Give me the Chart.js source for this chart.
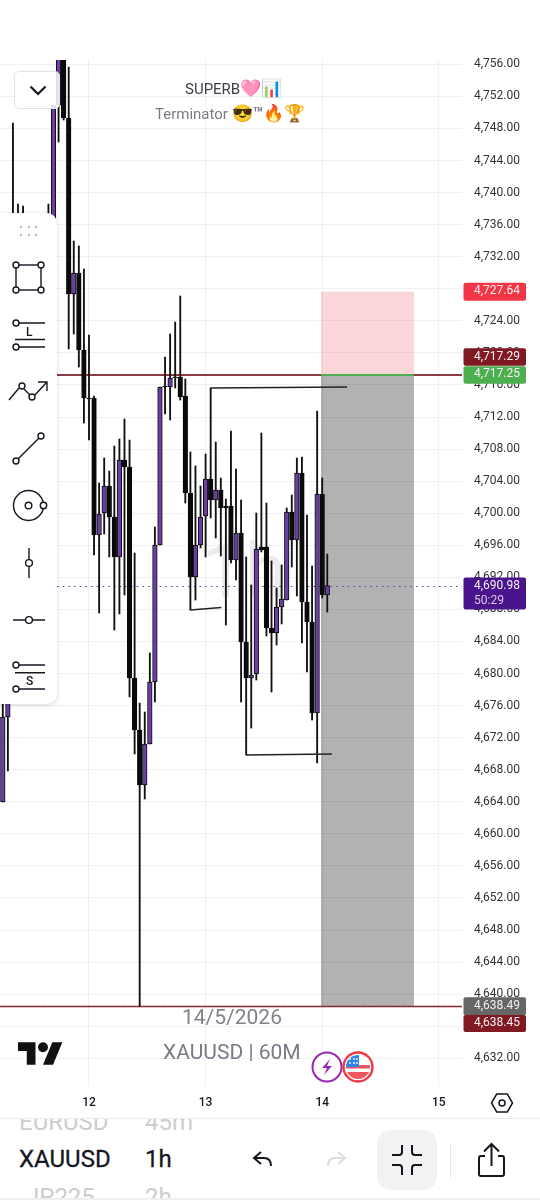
<!DOCTYPE html>
<html>
<head>
<meta charset="utf-8">
<title>XAUUSD 60M</title>
<script src="https://cdn.jsdelivr.net/npm/chart.js@4"></script>
<style>
  html, body { margin: 0; padding: 0; background: #fff; width: 540px; height: 1200px; overflow: hidden; font-family: Roboto, sans-serif; }
  #chart { position: absolute; left: 0; top: 0; z-index: 1; }
  .txt { position: absolute; white-space: nowrap; }
  .under { z-index: 0; }
  .over { z-index: 2; }
  .emo { font-size: 17px; }
  svg { position: absolute; overflow: visible; }
  #toolbar { position: absolute; z-index: 3; left: 0; top: 213px; width: 57px; height: 491px; background: #fff; border-radius: 0 10px 10px 0; box-shadow: 0 1px 5px rgba(0,0,0,.16); }
  #dropdown { position: absolute; z-index: 3; left: 14px; top: 71px; width: 46px; height: 38px; box-sizing: border-box; background: rgba(255,255,255,.86); border: 1px solid #e0e3eb; border-radius: 5px; }
  #bottom { position: absolute; z-index: 4; left: 0; top: 1118px; width: 540px; height: 80px; background: #fff; border-top: 1px solid #ececec; box-sizing: border-box; overflow: hidden; }
  #bottomEdge { position: absolute; z-index: 4; left: 0; top: 1198px; width: 540px; height: 2px; background: #efefef; }
  #flatBtn { position: absolute; left: 377px; top: 11px; width: 60px; height: 60px; background: #f2f2f2; border-radius: 14px; }
  #divider { position: absolute; left: 450px; top: 24px; width: 1px; height: 35px; background: #e8e8e8; }
</style>
</head>
<body>
<div class="txt under" style="left:202px;top:526px;font-size:76px;color:#ececef;">1h</div>
<canvas id="chart" width="540" height="1200"></canvas>

<div class="txt over" style="left:185px;top:78px;font-size:15px;color:#3c404c;">SUPERB<span class="emo">🩷📊</span></div>
<div class="txt over" style="left:155px;top:103px;font-size:15px;color:#787b86;">Terminator <span class="emo">😎<b>™</b>🔥🏆</span></div>
<div class="txt over" style="left:182px;top:1005px;font-size:21px;color:#80838d;">14/5/2026</div>
<div class="txt over" style="left:163px;top:1040px;font-size:21px;color:#787b86;">XAUUSD | 60M</div>

<svg class="over" style="left:18px;top:1042px;z-index:2" width="45" height="23" viewBox="0 4 36 18" fill="#111">
  <path d="M14 22H7V11H0V4h14v18zM28 22h-8l7.5-18h8L28 22z"/><circle cx="20" cy="8" r="4"/>
</svg>
<svg style="left:311px;top:1051px;z-index:2" width="32" height="32" viewBox="0 0 32 32">
  <circle cx="16" cy="16" r="14.5" fill="#fff" stroke="#9c27b0" stroke-width="2"/>
  <path d="M19 8l-8 9h5l-3 7 8-9h-5z" fill="#9c27b0"/>
</svg>
<svg style="left:342px;top:1051px;z-index:2" width="32" height="32" viewBox="0 0 32 32">
  <defs><clipPath id="flagClip"><circle cx="16" cy="16" r="12"/></clipPath></defs>
  <circle cx="16" cy="16" r="14.5" fill="#fff" stroke="#f23645" stroke-width="2.4"/>
  <g clip-path="url(#flagClip)">
    <rect x="4" y="4" width="24" height="24" fill="#fff"/>
    <rect x="4" y="14" width="24" height="3.5" fill="#f4565f"/>
    <rect x="4" y="21" width="24" height="7" fill="#f4565f"/>
    <rect x="4" y="4" width="13" height="12" fill="#2f86e8"/>
    <g fill="#fff"><circle cx="8" cy="8" r=".9"/><circle cx="12" cy="8" r=".9"/><circle cx="15" cy="8" r=".9"/><circle cx="8" cy="12" r=".9"/><circle cx="12" cy="12" r=".9"/><circle cx="15" cy="12" r=".9"/></g>
  </g>
</svg>
<svg style="left:490px;top:1092px;z-index:2" width="24" height="22" viewBox="0 0 24 22" fill="none" stroke="#131722" stroke-width="1.5">
  <path d="M1.5 11L6.7 2h10.6l5.2 9-5.2 9H6.7z"/><circle cx="12" cy="11" r="3"/>
</svg>

<div id="dropdown">
  <svg style="left:14px;top:13px" width="18" height="11" viewBox="0 0 18 11" fill="none" stroke="#131722" stroke-width="2.2"><path d="M1.5 1.5L9 9l7.5-7.5"/></svg>
</div>

<div id="toolbar">
  <svg style="left:0;top:-213px" width="57" height="704" viewBox="0 0 57 704" fill="none" stroke="#131722" stroke-width="1.4">
    <g fill="#bbb" stroke="none">
      <circle cx="21" cy="227" r="1.2"/><circle cx="29" cy="227" r="1.2"/><circle cx="36" cy="227" r="1.2"/>
      <circle cx="21" cy="235" r="1.2"/><circle cx="29" cy="235" r="1.2"/><circle cx="36" cy="235" r="1.2"/>
    </g>
    <rect x="16" y="265" width="25" height="25"/>
    <g fill="#fff"><circle cx="16" cy="265" r="3"/><circle cx="41" cy="265" r="3"/><circle cx="16" cy="290" r="3"/><circle cx="41" cy="290" r="3"/></g>
    <path d="M19 323h26M15 339.5h30M19 347h26"/><circle cx="16" cy="323" r="3"/><circle cx="16" cy="347" r="3"/>
    <path d="M9 400l10-12M24 389l6 6M35 395l11-12M38 382h9v9"/><circle cx="22" cy="386" r="3"/><circle cx="32" cy="397" r="3"/>
    <path d="M18 459l21-21"/><circle cx="16" cy="461" r="3"/><circle cx="41" cy="436" r="3"/>
    <circle cx="28.5" cy="505.5" r="15"/><circle cx="28.5" cy="505.5" r="3.3"/><circle cx="43.5" cy="505.5" r="3.2" fill="#fff"/>
    <path d="M29 548v11.5M29 566.5V578"/><circle cx="29" cy="563" r="3.4"/>
    <path d="M13 620h12.5M32.500 620H45"/><circle cx="29" cy="620" r="3.4"/>
    <path d="M19 665h26M15 672.700h30M19 689h26"/><circle cx="16" cy="665" r="3"/><circle cx="16" cy="689" r="3"/>
  </svg>
  <div class="txt" style="left:26px;top:112px;font-size:12px;font-weight:500;color:#131722;">L</div>
  <div class="txt" style="left:26px;top:461px;font-size:12px;font-weight:500;color:#131722;">S</div>
</div>

<div id="bottom">
  <div class="txt" style="left:19px;top:-11px;font-size:24px;color:#cdcdcd;">EURUSD</div>
  <div class="txt" style="left:145px;top:-11px;font-size:24px;color:#cdcdcd;">45m</div>
  <div class="txt" style="left:19px;top:26px;font-size:24px;color:#131722;-webkit-text-stroke:.3px #131722;">XAUUSD</div>
  <div class="txt" style="left:145px;top:26px;font-size:24px;color:#131722;-webkit-text-stroke:.3px #131722;">1h</div>
  <div class="txt" style="left:26px;top:64px;font-size:24px;color:#cdcdcd;">JP225</div>
  <div class="txt" style="left:145px;top:64px;font-size:24px;color:#cdcdcd;">2h</div>
  <svg style="left:252px;top:30px" width="22" height="22" viewBox="0 0 22 22" fill="none" stroke="#131722" stroke-width="2"><path d="M9 3L2 9l7 6"/><path d="M2 9h10c5 0 7 3 7 8"/></svg>
  <svg style="left:325px;top:30px" width="22" height="22" viewBox="0 0 22 22" fill="none" stroke="#dcdcdc" stroke-width="2"><path d="M13 3l7 6-7 6"/><path d="M20 9H10c-5 0-7 3-7 8"/></svg>
  <div id="flatBtn"></div>
  <svg style="left:391px;top:24px" width="32" height="34" viewBox="0 0 32 34" fill="none" stroke="#131722" stroke-width="2"><path d="M11 2v7q0 3-3 3H1M21 2v7q0 3 3 3h7M11 32v-7q0-3-3-3H1M21 32v-7q0-3 3-3h7"/></svg>
  <div id="divider"></div>
  <svg style="left:477px;top:23px" width="29" height="36" viewBox="0 0 29 36" fill="none" stroke="#131722" stroke-width="2"><path d="M14.500 24V3M7 9.500L14.500 2 22 9.500"/><path d="M8 14H4q-2 0-2 2v16q0 2 2 2h21q2 0 2-2V16q0-2-2-2h-4"/></svg>
</div>
<div id="bottomEdge"></div>

<script>
// bar numbers, 0 is the bar on the "12" gridline
const barIndex = [-17,-16,-15,-14,-13,-12,-11,-10,-9,-8,-7,-6,-5,-4,-3,-2,-1,0,1,2,3,4,5,6,7,8,9,10,11,12,13,14,15,16,17,18,19,20,21,22,23,24,25,26,27,28,29,30,31,32,33,34,35,36,37,38,39,40,41,42,43,44,45,46,47];

const opens = [4663.97,4674.58,4687.00,4712.00,4705.00,4697.00,4704.00,4716.00,4708.00,4722.00,4732.00,4750.92,4760.00,4749.30,4727.35,4729.97,4720.36,4714.37,4714.37,4697.28,4700.03,4703.39,4699.53,4694.54,4706.64,4705.76,4679.44,4672.95,4666.09,4671.21,4678.94,4696.03,4715.87,4715.74,4716.99,4716.99,4714.62,4702.52,4692.04,4696.03,4699.65,4704.27,4701.65,4702.89,4700.90,4700.90,4694.16,4697.53,4683.93,4679.44,4679.94,4695.78,4695.78,4685.68,4685.06,4688.30,4689.17,4700.15,4696.66,4705.02,4688.92,4686.43,4675.08,4702.40,4689.80];
const highs = [4676.45,4690.00,4748.68,4738.57,4738.32,4712.00,4722.00,4725.00,4730.00,4738.57,4750.92,4762.00,4762.00,4755.66,4733.96,4733.33,4730.46,4722.23,4714.62,4703.77,4706.89,4705.26,4708.38,4709.26,4711.75,4709.13,4695.04,4676.32,4675.20,4682.56,4698.28,4715.74,4719.49,4722.36,4723.85,4727.10,4716.74,4707.64,4705.89,4703.39,4707.39,4715.62,4708.88,4704.39,4701.77,4710.25,4705.51,4701.65,4694.54,4691.04,4700.03,4710.01,4701.27,4694.04,4690.67,4693.54,4700.65,4702.27,4706.89,4707.01,4699.78,4693.41,4712.75,4704.39,4694.91];
const lows = [4663.97,4667.84,4684.00,4700.00,4692.00,4694.00,4700.00,4705.00,4704.00,4718.00,4730.00,4746.31,4749.05,4720.48,4722.36,4718.24,4711.25,4709.13,4694.79,4687.55,4697.41,4694.54,4685.43,4687.43,4689.80,4677.07,4669.96,4638.49,4664.35,4671.21,4676.45,4696.03,4712.38,4711.63,4715.62,4714.12,4701.27,4687.92,4689.17,4695.66,4694.54,4699.40,4696.91,4694.66,4686.05,4693.79,4691.67,4676.45,4669.84,4673.20,4679.19,4695.16,4684.68,4677.69,4683.56,4686.18,4689.17,4693.29,4689.67,4683.81,4680.19,4674.20,4668.84,4689.42,4687.67];
const closes = [4674.58,4687.00,4712.00,4705.00,4697.00,4704.00,4716.00,4708.00,4722.00,4732.00,4750.92,4760.00,4749.30,4727.35,4729.97,4720.36,4714.37,4714.25,4697.28,4699.90,4703.39,4699.53,4694.54,4706.64,4705.76,4679.44,4672.95,4666.09,4671.21,4678.94,4696.03,4715.74,4715.74,4716.87,4716.87,4714.50,4702.52,4692.04,4696.03,4699.53,4704.27,4701.65,4702.89,4700.65,4700.65,4694.16,4697.53,4683.93,4679.44,4679.82,4695.53,4695.41,4685.68,4685.06,4688.30,4689.30,4700.15,4696.66,4705.02,4688.92,4686.43,4675.08,4702.40,4689.80,4690.98];

const dayTicks = [0, 23, 46, 69];
const dayLabels = ['12', '13', '14', '15'];

const priceMin = 4628.54;
const priceMax = 4756.54;
const priceTicks = [4756,4752,4748,4744,4740,4736,4732,4728,4724,4720,4716,4712,4708,4704,4700,4696,4692,4688,4684,4680,4676,4672,4668,4664,4660,4656,4652,4648,4644,4640,4636,4632];

// drawn trend lines, [bar, price] ends
const trendTopX = [24, 50.9];
const trendTopY = [4715.62, 4715.75];
const trendLeftX = [20, 26.1];
const trendLeftY = [4687.92, 4688.25];
const trendLowX = [31, 47.9];
const trendLowY = [4669.84, 4669.95];

// long position tool
const positionX = [45.76, 64.1];
const stopPrice = 4727.64;
const entryPrice = 4717.25;
const targetPrice = 4638.49;
const lowerLinePrice = 4638.45;
const lastPrice = 4690.98;

const tagTexts = ['4,727.64', '4,717.29', '4,717.25', '4,690.98', '4,638.49', '4,638.45'];
const tagPrices = [4727.64, 4717.29, 4717.25, 4690.98, 4638.49, 4638.45];
const tagColors = ['#f23645', '#801922', '#4caf50', '#4a148c', '#666666', '#801922'];
const countdown = '50:29';

const PURPLE = '#6c3fa5';
const BLACK = '#0a0a0a';

const toPoints = (xs, ys) => xs.map((x, i) => ({ x: x, y: ys[i] }));

const wicks = barIndex.map((x, i) => ({ x: x, y: [lows[i], highs[i]] }));
const bodies = barIndex.map((x, i) => ({ x: x, y: [opens[i], closes[i]] }));
const bodyColors = barIndex.map((x, i) => closes[i] >= opens[i] ? PURPLE : BLACK);

const trendDataset = (xs, ys) => ({
  type: 'line',
  data: toPoints(xs, ys),
  borderColor: '#222',
  borderWidth: 1.5,
  pointRadius: 0,
  order: 0,
});

// position box and price lines go under the candles
const underlay = {
  id: 'underlay',
  beforeDatasetsDraw(chart) {
    const { ctx, chartArea, scales: { x, y } } = chart;
    const left = x.getPixelForValue(positionX[0]);
    const right = x.getPixelForValue(positionX[1]);
    const stopY = y.getPixelForValue(stopPrice);
    const entryY = y.getPixelForValue(entryPrice);
    const targetY = y.getPixelForValue(targetPrice);

    ctx.save();
    ctx.fillStyle = 'rgba(242,54,69,0.2)';
    ctx.fillRect(left, stopY, right - left, entryY - stopY);
    ctx.fillStyle = 'rgba(0,0,0,0.3)';
    ctx.fillRect(left, entryY, right - left, targetY - entryY);

    ctx.lineWidth = 2;
    ctx.strokeStyle = '#8b3a46';
    ctx.beginPath();
    ctx.moveTo(chartArea.left, entryY);
    ctx.lineTo(chartArea.right, entryY);
    ctx.stroke();

    ctx.strokeStyle = '#4caf50';
    ctx.beginPath();
    ctx.moveTo(left, entryY);
    ctx.lineTo(right, entryY);
    ctx.stroke();

    const lowY = y.getPixelForValue(lowerLinePrice);
    ctx.lineWidth = 1.5;
    ctx.strokeStyle = '#8b1a22';
    ctx.beginPath();
    ctx.moveTo(chartArea.left, lowY);
    ctx.lineTo(chartArea.right, lowY);
    ctx.stroke();
    ctx.lineWidth = 1;
    ctx.setLineDash([3, 2]);
    ctx.strokeStyle = 'rgba(120,120,120,0.35)';
    ctx.beginPath();
    ctx.moveTo(chartArea.left, lowY);
    ctx.lineTo(chartArea.right, lowY);
    ctx.stroke();

    const lastY = Math.round(y.getPixelForValue(lastPrice)) + 0.5;
    ctx.setLineDash([1.5, 4.2]);
    ctx.strokeStyle = '#5e35b1';
    ctx.beginPath();
    ctx.moveTo(chartArea.left, lastY);
    ctx.lineTo(chartArea.right, lastY);
    ctx.stroke();
    ctx.restore();
  },
};

// price tags on the right axis, some are pushed so they stack
const tagShift = [0, -17.5, 0, 8, 0, 17];
const tagHeight = [18, 17.5, 17.5, 32, 18, 17];

const priceTags = {
  id: 'priceTags',
  afterDraw(chart) {
    const { ctx, scales: { y } } = chart;
    ctx.save();
    ctx.textBaseline = 'middle';
    ctx.font = '12px Roboto';
    tagTexts.forEach((text, i) => {
      const mid = y.getPixelForValue(tagPrices[i]) + tagShift[i];
      const h = tagHeight[i];
      ctx.fillStyle = tagColors[i];
      ctx.beginPath();
      ctx.roundRect(463.5, mid - h / 2, 62.5, h, 2);
      ctx.fill();
      ctx.fillStyle = '#f4f0f4';
      if (i === 3) {
        ctx.fillText(text, 474, mid - 7.5);
        ctx.fillStyle = '#d8cce6';
        ctx.fillText(countdown, 474, mid + 7);
      } else {
        ctx.fillText(text, 474, mid - 0.5);
      }
    });
    ctx.restore();
  },
};

new Chart(document.getElementById('chart'), {
  data: {
    datasets: [
      trendDataset(trendTopX, trendTopY),
      trendDataset(trendLeftX, trendLeftY),
      trendDataset(trendLowX, trendLowY),
      {
        type: 'bar',
        data: bodies,
        backgroundColor: bodyColors,
        borderColor: BLACK,
        borderWidth: 1,
        borderSkipped: false,
        barThickness: 4.6,
        grouped: false,
        order: 1,
      },
      {
        type: 'bar',
        data: wicks,
        backgroundColor: '#111',
        borderWidth: 0,
        barThickness: 1.2,
        grouped: false,
        order: 2,
      },
    ],
  },
  options: {
    responsive: false,
    animation: false,
    events: [],
    layout: { padding: { top: 60, left: 0, right: 0, bottom: 0 } },
    plugins: { legend: { display: false }, tooltip: { enabled: false } },
    scales: {
      x: {
        type: 'linear',
        offset: false,
        min: -17.55,
        max: 73.57,
        grid: { color: '#f0f0f3', drawTicks: false, offset: false },
        border: { display: false },
        afterBuildTicks: (axis) => { axis.ticks = dayTicks.map((v) => ({ value: v })); },
        afterFit: (axis) => { axis.height = 114; },
        ticks: {
          autoSkip: false,
          maxRotation: 0,
          padding: 10,
          color: '#131722',
          font: { family: 'Roboto', size: 12, weight: '500' },
          callback: (value) => dayLabels[dayTicks.indexOf(value)],
        },
      },
      y: {
        type: 'linear',
        position: 'right',
        min: priceMin,
        max: priceMax,
        grid: { color: '#f0f0f3', drawTicks: false },
        border: { display: false },
        afterBuildTicks: (axis) => { axis.ticks = priceTicks.map((v) => ({ value: v })); },
        afterFit: (axis) => { axis.width = 78; },
        ticks: {
          autoSkip: false,
          padding: 12,
          color: '#333',
          font: { family: 'Roboto', size: 12 },
          callback: (value) => value.toLocaleString('en-US', { minimumFractionDigits: 2, maximumFractionDigits: 2 }),
        },
      },
    },
  },
  plugins: [underlay, priceTags],
});
</script>
</body>
</html>
